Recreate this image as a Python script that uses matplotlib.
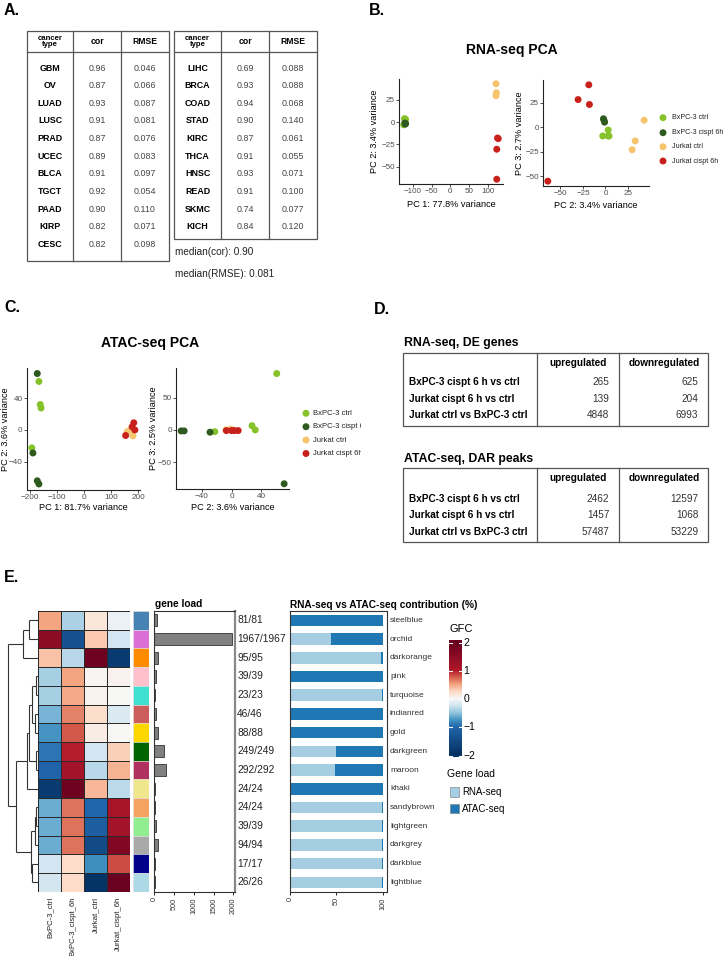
import numpy as np
import matplotlib
matplotlib.use('Agg')
import matplotlib.pyplot as plt
from matplotlib.patches import Rectangle
from matplotlib.colors import LinearSegmentedColormap

plt.rcParams['font.family'] = ['Liberation Sans', 'DejaVu Sans']

# ---------------- Panel A data ----------------
cancer_left = ['GBM', 'OV', 'LUAD', 'LUSC', 'PRAD', 'UCEC', 'BLCA', 'TGCT', 'PAAD', 'KIRP', 'CESC']
cor_left = [0.96, 0.87, 0.93, 0.91, 0.87, 0.89, 0.91, 0.92, 0.90, 0.82, 0.82]
rmse_left = [0.046, 0.066, 0.087, 0.081, 0.076, 0.083, 0.097, 0.054, 0.110, 0.071, 0.098]
cancer_right = ['LIHC', 'BRCA', 'COAD', 'STAD', 'KIRC', 'THCA', 'HNSC', 'READ', 'SKMC', 'KICH']
cor_right = [0.69, 0.93, 0.94, 0.90, 0.87, 0.91, 0.93, 0.91, 0.74, 0.84]
rmse_right = [0.088, 0.088, 0.068, 0.140, 0.061, 0.055, 0.071, 0.100, 0.077, 0.120]

# ---------------- PCA data ----------------
group_names = ['BxPC-3 ctrl', 'BxPC-3 cispt 6h', 'Jurkat ctrl', 'Jurkat cispt 6h']
group_colors = ['#86C22A', '#2D5A1F', '#F5C46C', '#C8201A']

rna_group = [0, 0, 0, 0, 1, 1, 1, 2, 2, 2, 3, 3, 3, 3]
rna_pc1 = [-121, -124, -119, -122, -120, -119, -121, 121, 122, 121, 127, 123, 125, 123]
rna_pc2 = [3, -3, 3, 4, -2.2, -1.6, -1, 43, 33, 29.6, -18.5, -30.4, -17.8, -64]
rna_pc3 = [-3, -9, -9, -9, 8.5, 7, 5, 7, -14, -23, 43, 28, 23, -55]

atac_group = [0, 0, 0, 0, 1, 1, 1, 1, 2, 2, 2, 3, 3, 3, 3]
atac_pc1 = [-167, -162, -159, -193, -173, -189, -173, -167, 159, 171, 180, 183, 177, 187, 153]
atac_pc2 = [61, 32, 27.6, -22.6, 71, -29, -64, -68, -2, 0, -7.5, 9, 4, 0, -7]
atac_pc3 = [87, 0, 6.6, -2.6, -83, -3.5, -1.5, -1.5, 1, 1, 0, -1, -1, -1, -1]

# ---------------- Panel D data ----------------
comparisons = ['BxPC-3 cispt 6 h vs ctrl', 'Jurkat cispt 6 h vs ctrl', 'Jurkat ctrl vs BxPC-3 ctrl']
rna_up = [265, 139, 4848]
rna_down = [625, 204, 6993]
atac_up = [2462, 1457, 57487]
atac_down = [12597, 1068, 53229]

# ---------------- Panel E data ----------------
samples = ['BxPC-3_ctrl', 'BxPC-3_cispt_6h', 'Jurkat_ctrl', 'Jurkat_cispt_6h']
modules = ['steelblue', 'orchid', 'darkorange', 'pink', 'turquoise', 'indianred', 'gold',
           'darkgreen', 'maroon', 'khaki', 'sandybrown', 'lightgreen', 'darkgrey', 'darkblue', 'lightblue']
module_hex = ['#4682B4', '#DA70D6', '#FF8C00', '#FFC0CB', '#40E0D0', '#CD5C5C', '#FFD700',
              '#006400', '#B03060', '#F0E68C', '#F4A460', '#90EE90', '#A9A9A9', '#00008B', '#ADD8E6']
gfc = [
    [0.5, -0.4, 0.15, -0.08],
    [1.5, -1.4, 0.33, -0.25],
    [0.37, -0.35, 1.9, -1.8],
    [-0.42, 0.5, 0.03, 0.05],
    [-0.42, 0.48, 0.04, 0.0],
    [-0.58, 0.62, 0.22, -0.18],
    [-0.75, 0.78, 0.1, 0.0],
    [-0.92, 0.98, -0.25, 0.3],
    [-1.05, 1.2, -0.35, 0.43],
    [-1.8, 1.9, 0.42, -0.33],
    [-0.62, 0.68, -1.0, 1.15],
    [-0.62, 0.68, -1.15, 1.2],
    [-0.62, 0.68, -1.5, 1.65],
    [-0.23, 0.24, -0.78, 0.82],
    [-0.24, 0.24, -1.95, 1.95],
]
gene_load = [81, 1967, 95, 39, 23, 46, 88, 249, 292, 24, 24, 39, 94, 17, 26]
rna_pct = [0, 44, 98, 0, 99, 0, 0, 50, 49, 0, 99, 99, 99, 99, 99]
# row dendrogram merges (child a, child b, height), scipy-linkage style
dendro_merges = [
    (0, 1, 9.0), (15, 2, 15.0), (3, 4, 2.6), (5, 6, 3.6), (17, 18, 6.0),
    (7, 8, 2.3), (19, 20, 9.0), (21, 9, 11.7), (10, 11, 2.3), (23, 12, 3.3),
    (13, 14, 6.0), (24, 25, 7.3), (22, 26, 22.3), (16, 27, 30.3)]
# colour scale of the heatmap (value breaks and colours)
gfc_breaks = [-2, -1, -0.75, -0.5, -0.25, 0, 0.25, 0.5, 0.75, 1, 2]
gfc_colors = ['#053061', '#2166AC', '#4393C3', '#92C5DE', '#D1E5F0', '#F7F7F7',
              '#FDDBC7', '#F4A582', '#D6604D', '#B2182B', '#67001F']

# ---------------- figure ----------------
W, H = 724, 956
fig = plt.figure(figsize=(W / 100, H / 100), dpi=100)


def px_axes(x0, y0, x1, y1, zorder=1):
    return fig.add_axes([x0 / W, 1 - y1 / H, (x1 - x0) / W, (y1 - y0) / H], zorder=zorder)


bg = px_axes(0, 0, W, H, zorder=0)
bg.set_xlim(0, W)
bg.set_ylim(H, 0)
bg.axis('off')


def T(x, y, s, **kw):
    kw.setdefault('va', 'center')
    return bg.text(x, y, s, **kw)


LC = '#555555'
for lab, (x, y) in zip(['A.', 'B.', 'C.', 'D.', 'E.'],
                       [(4, 10), (369, 10), (4, 308), (374, 309), (4, 577)]):
    T(x, y, lab, fontsize=11.5, fontweight='bold', ha='left')


# ---------------- Panel A ----------------
def table_A(xb, ytop, yhead, ybot, names, cors, rmses):
    bg.add_patch(Rectangle((xb[0], ytop), xb[3] - xb[0], ybot - ytop, fill=False, ec=LC, lw=0.9))
    for x in xb[1:3]:
        bg.plot([x, x], [ytop, ybot], color=LC, lw=0.9)
    bg.plot([xb[0], xb[3]], [yhead, yhead], color=LC, lw=0.9)
    cx = [(xb[i] + xb[i + 1]) / 2 for i in range(3)]
    yh = (ytop + yhead) / 2
    T(cx[0], yh, 'cancer\ntype', ha='center', fontsize=5.6, fontweight='bold', linespacing=0.85)
    T(cx[1], yh, 'cor', ha='center', fontsize=6.2, fontweight='bold')
    T(cx[2], yh, 'RMSE', ha='center', fontsize=6.2, fontweight='bold')
    for i, (n, c, r) in enumerate(zip(names, cors, rmses)):
        y = 68 + i * 17.63
        T(cx[0], y, n, ha='center', fontsize=6.4, fontweight='bold')
        T(cx[1], y, f'{c:.2f}', ha='center', fontsize=6.4, color='#444444')
        T(cx[2], y, f'{r:.3f}', ha='center', fontsize=6.4, color='#444444')


table_A([27, 73, 121, 169], 31, 52, 261, cancer_left, cor_left, rmse_left)
table_A([174, 221, 269, 317], 31, 52, 239, cancer_right, cor_right, rmse_right)
all_cor = cor_left + cor_right
all_rmse = rmse_left + rmse_right
T(175, 252, f'median(cor): {np.median(all_cor):.2f}', ha='left', fontsize=7.2, color='#222222')
T(175, 274, f'median(RMSE): {np.median(all_rmse):.3f}', ha='left', fontsize=7.2, color='#222222')


# ---------------- PCA panels ----------------
def pca_ax(box, xs, ys, groups, xt, yt, xl, yl, xlab_y, ylab_x, tick_size):
    ax = px_axes(*box)
    x0, y0, x1, y1 = box
    xs = np.array(xs, float)
    ys = np.array(ys, float)
    g = np.array(groups)
    for k in range(4):
        m = g == k
        ax.scatter(xs[m], ys[m], s=25, color=group_colors[k], edgecolors='none', zorder=3, clip_on=False)
    rx = xs.max() - xs.min()
    ry = ys.max() - ys.min()
    ax.set_xlim(xs.min() - 0.05 * rx, xs.max() + 0.05 * rx)
    ax.set_ylim(ys.min() - 0.05 * ry, ys.max() + 0.05 * ry)
    for s in ['top', 'right']:
        ax.spines[s].set_visible(False)
    for s in ['left', 'bottom']:
        ax.spines[s].set_linewidth(0.8)
        ax.spines[s].set_color('#222222')
    ax.set_xticks(xt)
    ax.set_yticks(yt)
    ax.tick_params(length=2, width=0.6, color='#333333', labelsize=tick_size, labelcolor='#4D4D4D', pad=1)
    ax.set_xlabel(xl, fontsize=6.6, va='center')
    ax.set_ylabel(yl, fontsize=6.6, va='center')
    ax.xaxis.set_label_coords(0.5, -(xlab_y - y1) / (y1 - y0))
    ax.yaxis.set_label_coords((ylab_x - x0) / (x1 - x0), 0.5)
    ax.patch.set_alpha(0)
    return ax


T(512, 50, 'RNA-seq PCA', ha='center', fontsize=10, fontweight='bold')
pca_ax((399, 79, 503, 184), rna_pc1, rna_pc2, rna_group, [-100, -50, 0, 50, 100], [-50, -25, 0, 25],
       'PC 1: 77.8% variance', 'PC 2: 3.4% variance', 204.3, 375, 5.8)
pca_ax((543, 80, 649, 186), rna_pc2, rna_pc3, rna_group, [-50, -25, 0, 25], [-50, -25, 0, 25],
       'PC 2: 3.4% variance', 'PC 3: 2.7% variance', 205, 519.3, 5.8)
for k, y in enumerate([117.7, 132.7, 146.7, 161]):
    bg.scatter([663], [y], s=25, color=group_colors[k], edgecolors='none')
    T(672, y, group_names[k], ha='left', fontsize=5.1, color='#222222')

T(150, 343, 'ATAC-seq PCA', ha='center', fontsize=10, fontweight='bold')
pca_ax((26.7, 368, 140, 489.5), atac_pc1, atac_pc2, atac_group, [-200, -100, 0, 100, 200], [-40, 0, 40],
       'PC 1: 81.7% variance', 'PC 2: 3.6% variance', 507.7, 5.0, 5.9)
pca_ax((176, 368, 289.3, 489.3), atac_pc2, atac_pc3, atac_group, [-40, 0, 40], [-50, 0, 50],
       'PC 2: 3.6% variance', 'PC 3: 2.5% variance', 507.3, 154, 5.9)
lc_ax = px_axes(298, 400, 361, 465)
lc_ax.set_xlim(298, 361)
lc_ax.set_ylim(465, 400)
lc_ax.axis('off')
for k, y in enumerate([413.3, 426.7, 440, 453.5]):
    lc_ax.scatter([306], [y], s=25, color=group_colors[k], edgecolors='none')
    lc_ax.text(313, y, group_names[k], ha='left', va='center', fontsize=5.5, color='#222222', clip_on=True)


# ---------------- Panel D ----------------
def table_D(title, ty, ytop, ybot, yhead, rows_y, up, down):
    T(404, ty, title, fontsize=8.8, fontweight='bold', ha='left')
    bg.add_patch(Rectangle((403.3, ytop), 304.4, ybot - ytop, fill=False, ec=LC, lw=0.9))
    for x in [537.3, 619.3]:
        bg.plot([x, x], [ytop, ybot], color=LC, lw=0.9)
    T(578.3, yhead, 'upregulated', ha='center', fontsize=7.2, fontweight='bold')
    T(664, yhead, 'downregulated', ha='center', fontsize=7.2, fontweight='bold')
    for i, y in enumerate(rows_y):
        T(409, y, comparisons[i], ha='left', fontsize=7.2, fontweight='bold')
        T(609.3, y, str(up[i]), ha='right', fontsize=7.2, color='#333333')
        T(698.3, y, str(down[i]), ha='right', fontsize=7.2, color='#333333')


table_D('RNA-seq, DE genes', 343.3, 352.7, 426, 362.7, [382.3, 398.7, 415], rna_up, rna_down)
table_D('ATAC-seq, DAR peaks', 459.3, 467.7, 541.7, 478.3, [499.3, 515, 531.7], atac_up, atac_down)

# ---------------- Panel E ----------------
bmin, bmax = gfc_breaks[0], gfc_breaks[-1]
cmap = LinearSegmentedColormap.from_list(
    'gfc', [((b - bmin) / (bmax - bmin), c) for b, c in zip(gfc_breaks, gfc_colors)], N=512)
nrow = len(modules)
Y0, Y1 = 611, 891.7
rowh = (Y1 - Y0) / nrow

# dendrogram
dax = px_axes(2, Y0, 38.3, Y1)
dax.set_xlim(36.3, 0)
dax.set_ylim(nrow, 0)
dax.axis('off')
pos = {i: i + 0.5 for i in range(nrow)}
hgt = {i: 0.0 for i in range(nrow)}
for k, (a, b, h) in enumerate(dendro_merges):
    for c in (a, b):
        dax.plot([hgt[c], h], [pos[c], pos[c]], color='#333333', lw=0.8, solid_capstyle='butt')
    dax.plot([h, h], [pos[a], pos[b]], color='#333333', lw=0.8, solid_capstyle='butt')
    pos[nrow + k] = (pos[a] + pos[b]) / 2
    hgt[nrow + k] = h

# heatmap
hm = px_axes(38.3, Y0, 130, Y1)
hm.pcolormesh(np.array(gfc), cmap=cmap, vmin=bmin, vmax=bmax, edgecolors='#2a2a2a', linewidth=0.7)
hm.set_xlim(0, 4)
hm.set_ylim(nrow, 0)
hm.axis('off')
for j, s in enumerate(samples):
    hm.text(j + 0.5, nrow + 0.27, s, rotation=90, ha='center', va='top', fontsize=5.6,
            color='#222222', clip_on=False)

# module colour strip
ms = px_axes(133.3, Y0, 149, Y1)
for i, c in enumerate(module_hex):
    ms.add_patch(Rectangle((0, i), 1, 1, fc=c, ec='#e0e0e0', lw=0.4))
ms.set_xlim(0, 1)
ms.set_ylim(nrow, 0)
ms.axis('off')

# gene load bars
gl = px_axes(154.3, Y0, 235, Y1)
yy = np.arange(nrow) + 0.5
gl.barh(yy, gene_load, height=0.65, color='#808080', edgecolor='#333333', lw=0.6)
gl.set_ylim(nrow, 0)
gl.set_xlim(0, 2043)
gl.set_yticks([])
gl.set_xticks([0, 500, 1000, 1500, 2000])
gl.set_xticklabels(['0', '500', '1000', '1500', '2000'], rotation=90)
gl.tick_params(axis='x', length=2.5, width=0.6, labelsize=5.3, pad=1.5, labelcolor='#333333')
for s in ['top', 'left', 'bottom']:
    gl.spines[s].set_linewidth(0.8)
    gl.spines[s].set_color('#333333')
gl.spines['right'].set_linewidth(1.6)
gl.spines['right'].set_color('#888888')
T(155, 604.3, 'gene load', ha='left', fontsize=7.3, fontweight='bold')
for i, g in enumerate(gene_load):
    T(237.3, Y0 + (i + 0.5) * rowh, f'{g}/{g}', ha='left', fontsize=7.4, color='#222222')

# contribution bars
cbx = px_axes(290, Y0, 386.7, Y1)
rna_arr = np.array(rna_pct, float)
cbx.barh(yy, rna_arr, height=0.62, color='#A6CEE3', lw=0)
cbx.barh(yy, 100 - rna_arr, left=rna_arr, height=0.62, color='#1F78B4', lw=0)
cbx.set_ylim(nrow, 0)
cbx.set_xlim(0, 104.2)
cbx.set_yticks([])
cbx.set_xticks([0, 50, 100])
cbx.set_xticklabels(['0', '50', '100'], rotation=90)
cbx.tick_params(axis='x', length=2.5, width=0.6, labelsize=5.3, pad=1.5, labelcolor='#333333')
for s in cbx.spines.values():
    s.set_linewidth(0.8)
    s.set_color('#333333')
T(290, 605, 'RNA-seq vs ATAC-seq contribution (%)', ha='left', fontsize=7.3, fontweight='bold')
for i, m in enumerate(modules):
    T(390, Y0 + (i + 0.5) * rowh, m, ha='left', fontsize=6.0, color='#333333')

# colour bar GFC
cax = px_axes(449.3, 640, 461.7, 757.3)
lo, hi = -2.06, 2.1
grad = np.linspace(hi, lo, 400).reshape(-1, 1)
cax.imshow(grad, aspect='auto', cmap=cmap, vmin=bmin, vmax=bmax, extent=[0, 1, lo, hi])
cax.set_xlim(0, 1)
cax.set_ylim(lo, hi)
cax.axis('off')
for v in [-2, -1, 0, 1, 2]:
    cax.plot([0, 0.22], [v, v], color='white', lw=0.8)
    cax.plot([0.78, 1], [v, v], color='white', lw=0.8)
    cax.text(1.12, v, f'{v}'.replace('-', '\u2212'), ha='left', va='center', fontsize=7.5, clip_on=False)
T(449.3, 629, 'GFC', ha='left', fontsize=8)

# gene load legend
T(446.7, 774, 'Gene load', ha='left', fontsize=7.5)
for y, c, lab in [(792, '#A6CEE3', 'RNA-seq'), (808.7, '#1F78B4', 'ATAC-seq')]:
    bg.add_patch(Rectangle((450, y - 4.7), 9.4, 9.4, fc=c, ec='#888888', lw=0.5))
    T(462.3, y, lab, ha='left', fontsize=7)

fig.savefig('out.png', dpi=100, facecolor='white')
